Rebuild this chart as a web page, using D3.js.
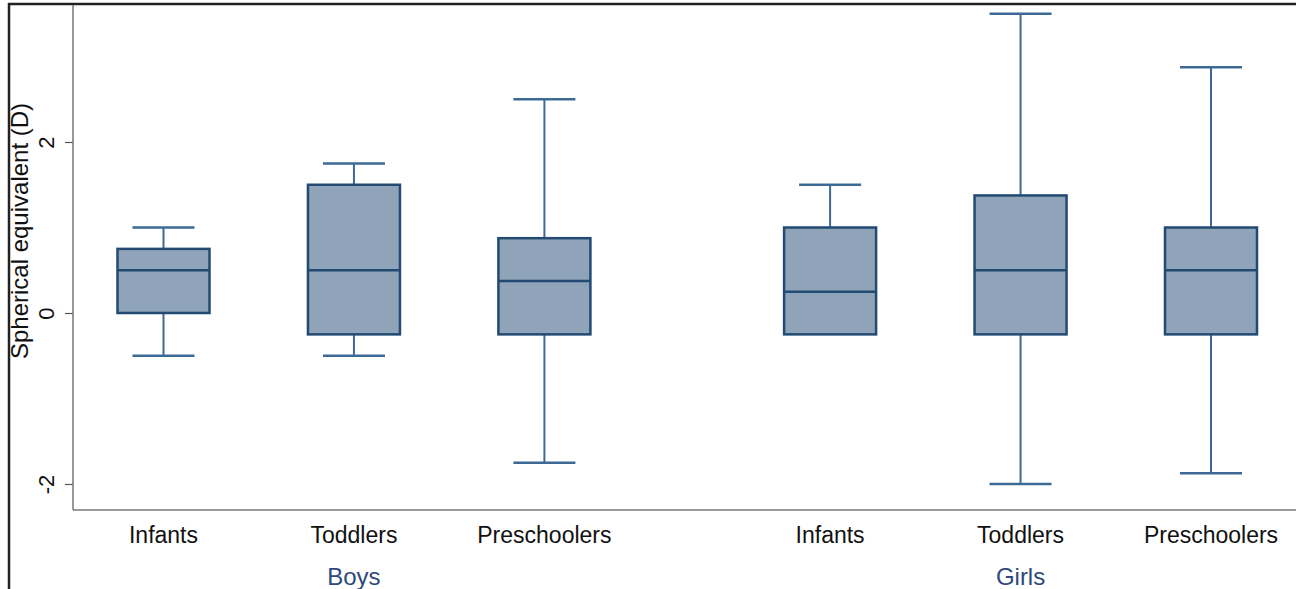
<!DOCTYPE html>
<html>
<head>
<meta charset="utf-8">
<script src="https://cdn.jsdelivr.net/npm/d3@7"></script>
<style>
  body { margin: 0; background: #fff; }
  text { font-family: "Liberation Sans", Arial, sans-serif; }
</style>
</head>
<body>
<svg id="chart" width="1296" height="589"></svg>
<script>
// categories and groups
let groups = ['Boys', 'Girls']
let ages = ['Infants', 'Toddlers', 'Preschoolers']

// box values, ordered Boys (Infants, Toddlers, Preschoolers) then Girls
let whiskerLow = [-0.5, -0.5, -1.75, -0.25, -2, -1.875]
let q1 = [0, -0.25, -0.25, -0.25, -0.25, -0.25]
let median = [0.5, 0.5, 0.375, 0.25, 0.5, 0.5]
let q3 = [0.75, 1.5, 0.875, 1, 1.375, 1]
let whiskerHigh = [1, 1.75, 2.5, 1.5, 3.5, 2.875]

let yTicks = [-2, 0, 2]

let svg = d3.select('#chart')
let width = +svg.attr('width')
let height = +svg.attr('height')

let rows = []
groups.forEach(function (g, gi) {
  ages.forEach(function (a, ai) {
    let i = gi * ages.length + ai
    // slot position: groups separated by an extra half step
    rows.push({ pos: ai + gi * 3.5, group: g, age: a, lo: whiskerLow[i], q1: q1[i], med: median[i], q3: q3[i], hi: whiskerHigh[i] })
  })
})

let x = d3.scaleLinear().domain([0, 5.5]).range([163.5, 1211])
let y = d3.scaleLinear().domain([-2, 2]).range([484, 142])

let boxW = 92
let capW = 62
let plotLeft = 73
let plotBottom = 510
let fill = '#8fa4b8'
let edge = '#224a72'
let whisk = '#3d6a94'

// outer frame
svg.append('line').attr('x1', 9).attr('x2', 9).attr('y1', 3).attr('y2', height).attr('stroke', '#222').attr('stroke-width', 2.5)
svg.append('line').attr('x1', 8).attr('x2', width).attr('y1', 4).attr('y2', 4).attr('stroke', '#222').attr('stroke-width', 2.5)

// y axis
let yAxis = d3.axisLeft(y).tickValues(yTicks).tickSize(8).tickFormat(d3.format('d'))
let gy = svg.append('g').attr('transform', 'translate(' + plotLeft + ',0)').call(yAxis)
gy.select('.domain').remove()
gy.selectAll('.tick line').attr('stroke', '#555').attr('stroke-width', 1.2)
gy.selectAll('.tick text')
  .attr('font-size', 22).attr('fill', '#111')
  .attr('text-anchor', 'middle')
  .attr('x', 0).attr('y', 0).attr('dy', 0)
  .attr('transform', 'translate(-19,0) rotate(-90)')
  .text(function (d) { return d })

svg.append('line').attr('x1', plotLeft).attr('x2', plotLeft).attr('y1', 5).attr('y2', plotBottom).attr('stroke', '#777').attr('stroke-width', 1.5)
svg.append('line').attr('x1', plotLeft).attr('x2', width).attr('y1', plotBottom).attr('y2', plotBottom).attr('stroke', '#777').attr('stroke-width', 1.5)

svg.append('text')
  .attr('transform', 'translate(28,231) rotate(-90)')
  .attr('text-anchor', 'middle')
  .attr('font-size', 24).attr('fill', '#111')
  .text('Spherical equivalent (D)')

// boxes
let box = svg.selectAll('.box').data(rows).enter().append('g').attr('class', 'box')
  .attr('transform', function (d) { return 'translate(' + x(d.pos) + ',0)' })

box.append('line').attr('x1', 0).attr('x2', 0)
  .attr('y1', function (d) { return y(d.hi) }).attr('y2', function (d) { return y(d.q3) })
  .attr('stroke', whisk).attr('stroke-width', 2)
box.append('line').attr('x1', 0).attr('x2', 0)
  .attr('y1', function (d) { return y(d.q1) }).attr('y2', function (d) { return y(d.lo) })
  .attr('stroke', whisk).attr('stroke-width', 2)
box.append('line').attr('x1', -capW / 2).attr('x2', capW / 2)
  .attr('y1', function (d) { return y(d.hi) }).attr('y2', function (d) { return y(d.hi) })
  .attr('stroke', whisk).attr('stroke-width', 2.5)
box.filter(function (d) { return d.lo < d.q1 }).append('line').attr('x1', -capW / 2).attr('x2', capW / 2)
  .attr('y1', function (d) { return y(d.lo) }).attr('y2', function (d) { return y(d.lo) })
  .attr('stroke', whisk).attr('stroke-width', 2.5)
box.append('rect')
  .attr('x', -boxW / 2).attr('width', boxW)
  .attr('y', function (d) { return y(d.q3) })
  .attr('height', function (d) { return y(d.q1) - y(d.q3) })
  .attr('fill', fill).attr('stroke', edge).attr('stroke-width', 2.5)
box.append('line').attr('x1', -boxW / 2).attr('x2', boxW / 2)
  .attr('y1', function (d) { return y(d.med) }).attr('y2', function (d) { return y(d.med) })
  .attr('stroke', edge).attr('stroke-width', 2.5)

// category labels
svg.selectAll('.cat').data(rows).enter().append('text')
  .attr('x', function (d) { return x(d.pos) }).attr('y', 543)
  .attr('text-anchor', 'middle').attr('font-size', 23).attr('fill', '#111')
  .text(function (d) { return d.age })

// group labels
svg.selectAll('.grp').data(groups).enter().append('text')
  .attr('x', function (g, gi) { return x(1 + gi * 3.5) }).attr('y', 585)
  .attr('text-anchor', 'middle').attr('font-size', 24).attr('fill', '#2e4a7a')
  .text(function (g) { return g })
</script>
</body>
</html>
